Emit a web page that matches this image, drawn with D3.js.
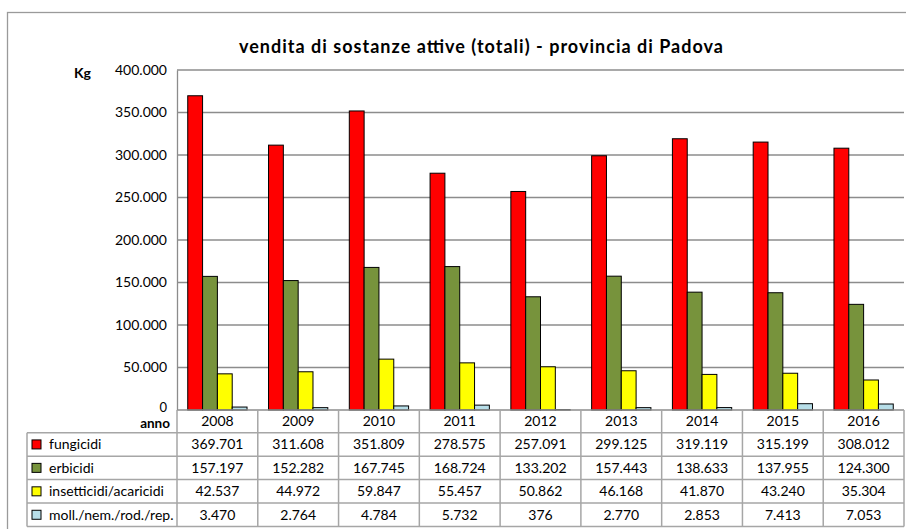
<!DOCTYPE html>
<html>
<head>
<meta charset="utf-8">
<script src="https://cdn.jsdelivr.net/npm/d3@7"></script>
<style>
  body { margin: 0; background: #fff; }
  svg { display: block; font-family: Lato, "Open Sans", sans-serif; }
</style>
</head>
<body>
<script>
// data
var years = ["2008", "2009", "2010", "2011", "2012", "2013", "2014", "2015", "2016"];
var seriesNames = ["fungicidi", "erbicidi", "insetticidi/acaricidi", "moll./nem./rod./rep."];
var fungicidi = [369701, 311608, 351809, 278575, 257091, 299125, 319119, 315199, 308012];
var erbicidi = [157197, 152282, 167745, 168724, 133202, 157443, 138633, 137955, 124300];
var insetticidi = [42537, 44972, 59847, 55457, 50862, 46168, 41870, 43240, 35304];
var molluschicidi = [3470, 2764, 4784, 5732, 376, 2770, 2853, 7413, 7053];
var colors = ["#ff0000", "#77933c", "#ffff00", "#b7dee8"];
var yTicks = [0, 50000, 100000, 150000, 200000, 250000, 300000, 350000, 400000];

var values = [fungicidi, erbicidi, insetticidi, molluschicidi];

var width = 906, height = 529;
var margin = { top: 70, left: 177, right: 904, bottom: 410 };

var it = d3.formatLocale({ decimal: ",", thousands: ".", grouping: [3], currency: ["", "€"] });
var fmt = it.format(",d");

var svg = d3.select("body").append("svg")
    .attr("width", width)
    .attr("height", height);

// outer chart border
svg.append("rect")
    .attr("x", 7.5).attr("y", 12.5)
    .attr("width", 920).attr("height", 540)
    .attr("fill", "none")
    .attr("stroke", "#9a9a9a")
    .attr("stroke-width", 1.3);

var x0 = d3.scaleBand().domain(years).range([margin.left, margin.right]);
var x1 = d3.scaleBand().domain(d3.range(seriesNames.length))
    .range([0, x0.bandwidth()]).paddingOuter(0.725);
var y = d3.scaleLinear().domain([0, 400000]).range([margin.bottom, margin.top]);

// gridlines
svg.append("g").selectAll("line")
    .data(yTicks.slice(1))
    .enter().append("line")
    .attr("x1", margin.left).attr("x2", margin.right)
    .attr("y1", function (d) { return y(d); })
    .attr("y2", function (d) { return y(d); })
    .attr("stroke", "#8c8c8c")
    .attr("stroke-width", 1.3);

// y axis labels
var yAxis = d3.axisLeft(y).tickValues(yTicks).tickSize(0).tickPadding(10).tickFormat(fmt);
var ya = svg.append("g").attr("transform", "translate(" + margin.left + ",0)").call(yAxis);
ya.select(".domain").attr("stroke", "#8c8c8c").attr("stroke-width", 1.3);
ya.selectAll("text").attr("font-family", "Lato").attr("font-size", 14).attr("fill", "#000");
// zero label sits a bit higher, just above "anno"
ya.selectAll(".tick").filter(function (d) { return d === 0; })
    .select("text").attr("dy", "0.1em").attr("font-size", 13);

// bars
var groups = svg.append("g").selectAll("g")
    .data(years)
    .enter().append("g")
    .attr("transform", function (d) { return "translate(" + x0(d) + ",0)"; });

groups.selectAll("rect")
    .data(function (d, i) { return values.map(function (s, k) { return { k: k, v: s[i] }; }); })
    .enter().append("rect")
    .attr("x", function (d) { return x1(d.k); })
    .attr("y", function (d) { return y(d.v); })
    .attr("width", x1.bandwidth())
    .attr("height", function (d) { return y(0) - y(d.v); })
    .attr("fill", function (d) { return colors[d.k]; })
    .attr("stroke", "#000")
    .attr("stroke-width", 1);

// title
svg.append("text")
    .attr("x", 481).attr("y", 53)
    .attr("text-anchor", "middle")
    .attr("font-weight", "bold")
    .attr("font-size", 18)
    .attr("textLength", 484)
    .attr("lengthAdjust", "spacing")
    .text("vendita di sostanze attive (totali) - provincia di Padova");

svg.append("text")
    .attr("x", 74).attr("y", 78)
    .attr("font-weight", "bold")
    .attr("font-size", 14)
    .text("Kg");

// data table
var tableLeft = 27;
var headerTop = margin.bottom, headerBottom = 432.7;
var rows = d3.scaleBand().domain(d3.range(seriesNames.length)).range([headerBottom, 526.5]);
var gridColor = "#a6a6a6";

var table = svg.append("g");

// horizontal lines
table.append("line")
    .attr("x1", margin.left).attr("x2", margin.right)
    .attr("y1", headerTop).attr("y2", headerTop)
    .attr("stroke", "#8c8c8c").attr("stroke-width", 1.5);
table.selectAll(".hl")
    .data(d3.range(seriesNames.length + 1))
    .enter().append("line")
    .attr("class", "hl")
    .attr("x1", tableLeft).attr("x2", margin.right)
    .attr("y1", function (d) { return headerBottom + d * rows.bandwidth(); })
    .attr("y2", function (d) { return headerBottom + d * rows.bandwidth(); })
    .attr("stroke", gridColor).attr("stroke-width", 1.5);

// vertical lines
table.selectAll(".vl")
    .data(years.concat(["end"]))
    .enter().append("line")
    .attr("class", "vl")
    .attr("x1", function (d) { return d === "end" ? margin.right : x0(d); })
    .attr("x2", function (d) { return d === "end" ? margin.right : x0(d); })
    .attr("y1", headerTop).attr("y2", rows.range()[1])
    .attr("stroke", gridColor).attr("stroke-width", 1.5);
table.append("line")
    .attr("x1", tableLeft).attr("x2", tableLeft)
    .attr("y1", headerBottom).attr("y2", rows.range()[1])
    .attr("stroke", gridColor).attr("stroke-width", 1.5);

// header years
table.selectAll(".yr")
    .data(years)
    .enter().append("text")
    .attr("class", "yr")
    .attr("x", function (d) { return x0(d) + x0.bandwidth() / 2; })
    .attr("y", (headerTop + headerBottom) / 2 + 5)
    .attr("text-anchor", "middle")
    .attr("font-size", 14)
    .text(function (d) { return d; });

table.append("text")
    .attr("x", 170).attr("y", 428)
    .attr("text-anchor", "end")
    .attr("font-weight", "bold")
    .attr("font-size", 13.5)
    .text("anno");

// legend rows
var legendRows = table.selectAll(".lr")
    .data(seriesNames)
    .enter().append("g")
    .attr("class", "lr")
    .attr("transform", function (d, i) { return "translate(0," + (rows(i) + rows.bandwidth() / 2) + ")"; });

legendRows.append("rect")
    .attr("x", 32).attr("y", -4.5)
    .attr("width", 9).attr("height", 9)
    .attr("fill", function (d, i) { return colors[i]; })
    .attr("stroke", "#000").attr("stroke-width", 1);

legendRows.append("text")
    .attr("x", 49).attr("y", 5)
    .attr("font-size", 14)
    .text(function (d) { return d; });

legendRows.selectAll(".val")
    .data(function (d, i) { return values[i]; })
    .enter().append("text")
    .attr("class", "val")
    .attr("x", function (d, j) { return x0(years[j]) + x0.bandwidth() / 2; })
    .attr("y", 5)
    .attr("text-anchor", "middle")
    .attr("font-size", 14)
    .text(function (d) { return fmt(d); });
</script>
</body>
</html>
